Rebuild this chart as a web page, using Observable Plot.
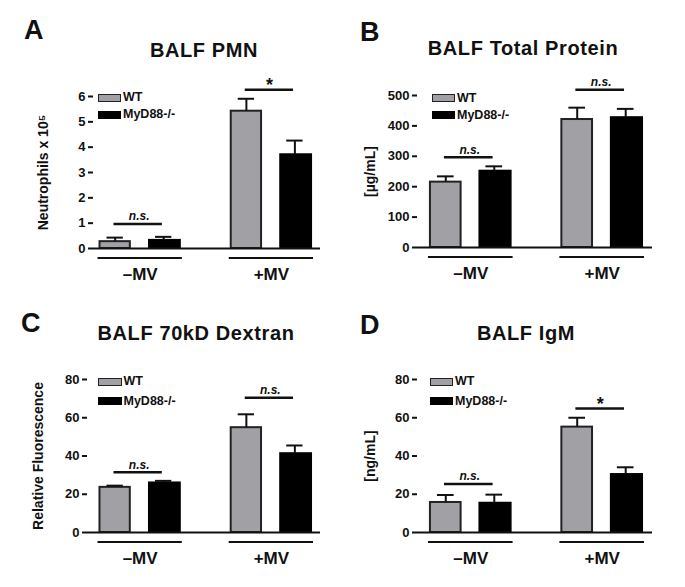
<!DOCTYPE html>
<html><head><meta charset="utf-8">
<script src="https://cdn.jsdelivr.net/npm/d3@7"></script>
<script src="https://cdn.jsdelivr.net/npm/@observablehq/plot@0.6"></script>
<style>
html,body{margin:0;padding:0;background:#fff;}
#fig{position:relative;width:685px;height:587px;overflow:hidden;font-family:"Liberation Sans",Arial,sans-serif;font-weight:bold;color:#111;background:#fff;}
.abs{position:absolute;white-space:nowrap;}
.letter{font-size:27px;line-height:27px;}
.title{font-size:20px;line-height:20px;letter-spacing:0.6px;width:300px;text-align:center;}
.box{position:absolute;box-sizing:border-box;width:23.5px;height:8px;border:1.5px solid #222;}
.ltext{font-size:12.5px;line-height:12.5px;}
.panel svg{overflow:visible;}
</style></head><body><div id="fig"></div>
<script>
// ---- shared categories ----
const conditions = ["–MV", "+MV"];
const genotypes = ["WT", "MyD88-/-"];

// ---- Panel A: BALF PMN ----
const pmnWT = [0.27, 5.42];
const pmnWTsem = [0.16, 0.49];
const pmnKO = [0.32, 3.70];
const pmnKOsem = [0.14, 0.56];
const pmnSigLevel = [0.97, 6.27];
const pmnSigLabel = ["n.s.", "*"];
const pmnTicks = [0, 1, 2, 3, 4, 5, 6];

// ---- Panel B: BALF Total Protein ----
const protWT = [215, 421];
const protWTsem = [19, 39];
const protKO = [251, 427];
const protKOsem = [16, 29];
const protSigLevel = [297, 519];
const protSigLabel = ["n.s.", "n.s."];
const protTicks = [0, 100, 200, 300, 400, 500];

// ---- Panel C: BALF 70kD Dextran ----
const dexWT = [23.6, 54.8];
const dexWTsem = [0.9, 7.0];
const dexKO = [25.9, 41.2];
const dexKOsem = [1.1, 4.3];
const dexSigLevel = [31.5, 70.5];
const dexSigLabel = ["n.s.", "n.s."];
const dexTicks = [0, 20, 40, 60, 80];

// ---- Panel D: BALF IgM ----
const igmWT = [15.7, 55.1];
const igmWTsem = [3.9, 4.9];
const igmKO = [15.3, 30.3];
const igmKOsem = [4.5, 3.8];
const igmSigLevel = [25.4, 64.8];
const igmSigLabel = ["n.s.", "*"];
const igmTicks = [0, 20, 40, 60, 80];

const GRAY = "#a1a1a5";
const fig = document.getElementById("fig");

function rows(wt, wtErr, ko, koErr) {
  return conditions.flatMap((c, i) => [
    {cond: c, geno: genotypes[0], value: wt[i], err: wtErr[i]},
    {cond: c, geno: genotypes[1], value: ko[i], err: koErr[i]}
  ]);
}

function addText(cls, txt, left, top, extra) {
  const d = document.createElement("div");
  d.className = "abs " + cls;
  d.textContent = txt;
  d.style.left = left + "px";
  d.style.top = top + "px";
  if (extra) Object.assign(d.style, extra);
  fig.appendChild(d);
  return d;
}

function makePanel(cfg) {
  const data = rows(cfg.wt, cfg.wtErr, cfg.ko, cfg.koErr);
  const wt = data.filter(d => d.geno === genotypes[0]);
  const ko = data.filter(d => d.geno === genotypes[1]);
  const sig = conditions.map((c, i) => ({cond: c, y: cfg.sigLevel[i], label: cfg.sigLabel[i]}));
  const plot = Plot.plot({
    width: cfg.w, height: cfg.h,
    marginLeft: cfg.ml, marginRight: cfg.mr, marginTop: 30, marginBottom: 45,
    style: {fontFamily: '"Liberation Sans", Arial, sans-serif', fontWeight: "bold", fontSize: "12px", background: "transparent", color: "#111", overflow: "visible"},
    x: {type: "band", domain: conditions, paddingInner: cfg.pi, paddingOuter: cfg.po, align: cfg.align, round: false},
    y: {domain: [0, cfg.ticks[cfg.ticks.length - 1]]},
    marks: [
      Plot.barY(wt, {x: "cond", y: "value", fill: GRAY, stroke: "#222", strokeWidth: 2, insetLeft: 1, insetRight: 51}),
      Plot.barY(ko, {x: "cond", y: "value", fill: "#000", stroke: "#000", strokeWidth: 2, insetLeft: 50.5, insetRight: 1}),
      Plot.ruleX(wt, {x: "cond", y1: "value", y2: d => d.value + d.err, dx: -25, strokeWidth: 2, stroke: "#111"}),
      Plot.ruleX(ko, {x: "cond", y1: "value", y2: d => d.value + d.err, dx: 23.5, strokeWidth: 2, stroke: "#111"}),
      Plot.tickY(wt, {x: "cond", y: d => d.value + d.err, insetLeft: 8, insetRight: 58, strokeWidth: 2, stroke: "#111"}),
      Plot.tickY(ko, {x: "cond", y: d => d.value + d.err, insetLeft: 56.5, insetRight: 9.5, strokeWidth: 2, stroke: "#111"}),
      Plot.ruleY([0], {strokeWidth: 2.2, stroke: "#111"}),
      Plot.axisY({ticks: cfg.ticks, tickFormat: d => String(d), tickSize: 5, tickPadding: 3, strokeWidth: 2, line: true, label: null, fontSize: 13}),
      Plot.axisX({tickSize: 0, tickPadding: 19, fontSize: 17, label: null}),
      Plot.tickY(conditions, {x: d => d, y: 0, dy: 9.5, strokeWidth: 2, stroke: "#111", insetLeft: -1, insetRight: -1}),
      Plot.tickY(sig, {x: "cond", y: "y", insetLeft: 15, insetRight: 19, strokeWidth: 2.5, stroke: "#111"}),
      Plot.text(sig.filter(d => d.label !== "*"), {x: "cond", y: "y", text: "label", fontSize: 12, fontStyle: "italic", lineAnchor: "bottom", dy: -3.5, dx: -1}),
      Plot.text(sig.filter(d => d.label === "*"), {x: "cond", y: "y", text: "label", fontSize: 18, lineAnchor: "bottom", dy: 1, dx: -2}),
      Plot.text([cfg.ylabel], {frameAnchor: "left", textAnchor: "middle", lineAnchor: "middle", rotate: -90, dx: cfg.ylabelDx, fontSize: 14, text: d => d})
    ]
  });
  const holder = document.createElement("div");
  holder.className = "abs panel";
  holder.style.left = cfg.x + "px";
  holder.style.top = cfg.y + "px";
  holder.style.width = cfg.w + "px";
  holder.appendChild(plot);
  fig.appendChild(holder);

  // panel letter and title
  addText("letter", cfg.letter, cfg.letterX, cfg.letterY);
  addText("title", cfg.title, cfg.titleCx - 150, cfg.titleTop);

  // legend
  const lg = cfg.legend;
  [[GRAY, "#222", genotypes[0], lg.y1], ["#000", "#000", genotypes[1], lg.y2]].forEach(([fill, stroke, label, yy]) => {
    const b = document.createElement("div");
    b.className = "box";
    b.style.left = lg.x + "px";
    b.style.top = yy + "px";
    b.style.background = fill;
    b.style.borderColor = stroke;
    fig.appendChild(b);
    addText("ltext", label, lg.x + 25.5, yy - 2.5);
  });
}

makePanel({letter: "A", letterX: 24, letterY: 17, title: "BALF PMN", titleCx: 204, titleTop: 40,
  x: 0, y: 66, w: 340, h: 227, ml: 93, mr: 20, pi: 0.3726, po: 0.0513, align: 0.41,
  wt: pmnWT, wtErr: pmnWTsem, ko: pmnKO, koErr: pmnKOsem,
  sigLevel: pmnSigLevel, sigLabel: pmnSigLabel, ticks: pmnTicks,
  ylabel: "Neutrophils x 10⁵", ylabelDx: -50,
  legend: {x: 97.5, y1: 93.5, y2: 110.5}});

makePanel({letter: "B", letterX: 360, letterY: 19, title: "BALF Total Protein", titleCx: 523, titleTop: 38,
  x: 340, y: 65, w: 345, h: 227, ml: 77, mr: 33, pi: 0.371, po: 0.0795, align: 0.571,
  wt: protWT, wtErr: protWTsem, ko: protKO, koErr: protKOsem,
  sigLevel: protSigLevel, sigLabel: protSigLabel, ticks: protTicks,
  ylabel: "[µg/mL]", ylabelDx: -47,
  legend: {x: 431.5, y1: 94, y2: 111}});

makePanel({letter: "C", letterX: 21, letterY: 310, title: "BALF 70kD Dextran", titleCx: 196, titleTop: 323,
  x: 0, y: 349, w: 340, h: 228, ml: 87, mr: 20, pi: 0.3726, po: 0.0741, align: 0.59,
  wt: dexWT, wtErr: dexWTsem, ko: dexKO, koErr: dexKOsem,
  sigLevel: dexSigLevel, sigLabel: dexSigLabel, ticks: dexTicks,
  ylabel: "Relative Fluorescence", ylabelDx: -49,
  legend: {x: 98, y1: 377.5, y2: 397}});

makePanel({letter: "D", letterX: 360, letterY: 312, title: "BALF IgM", titleCx: 526, titleTop: 323,
  x: 340, y: 349, w: 345, h: 228, ml: 77, mr: 33, pi: 0.371, po: 0.0795, align: 0.571,
  wt: igmWT, wtErr: igmWTsem, ko: igmKO, koErr: igmKOsem,
  sigLevel: igmSigLevel, sigLabel: igmSigLabel, ticks: igmTicks,
  ylabel: "[ng/mL]", ylabelDx: -47,
  legend: {x: 429.5, y1: 377.5, y2: 397}});
</script>
</body></html>
